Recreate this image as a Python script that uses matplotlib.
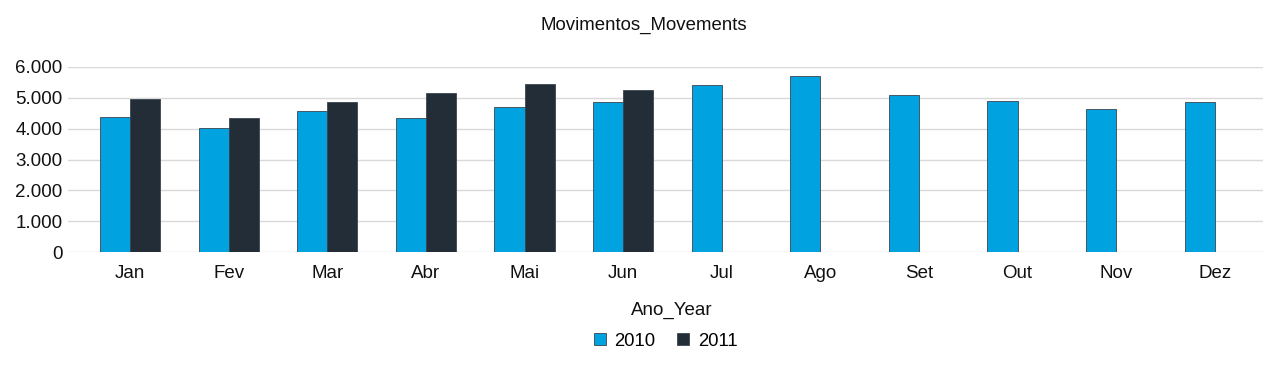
import matplotlib
matplotlib.use("Agg")
import matplotlib.pyplot as plt
from matplotlib.ticker import FuncFormatter
from matplotlib.lines import Line2D
import numpy as np

# %%
months = ["Jan", "Fev", "Mar", "Abr", "Mai", "Jun", "Jul", "Ago", "Set", "Out", "Nov", "Dez"]
mov_2010 = [4360, 4010, 4570, 4340, 4690, 4850, 5410, 5690, 5075, 4900, 4645, 4870]
mov_2011 = [4950, 4330, 4870, 5150, 5440, 5260]
years = ["2010", "2011"]
colors = ["#00a3df", "#232d37"]

# %%
plt.rcParams["font.family"] = ["Liberation Sans", "DejaVu Sans"]
fig = plt.figure(figsize=(12.81, 3.71), dpi=100)
ax = fig.add_axes([0.0531, 0.320, 0.9329, 0.500])

x = np.arange(len(months))
w = 0.305
ax.bar(x[:len(mov_2010)] - w / 2, mov_2010, w, color=colors[0], edgecolor="#3a4550", linewidth=0.6, zorder=3)
ax.bar(x[:len(mov_2011)] + w / 2, mov_2011, w, color=colors[1], edgecolor="#3a4550", linewidth=0.6, zorder=3)

ax.set_xlim(-0.63, 11.49)
ax.set_ylim(0, 6000)
ax.set_yticks(np.arange(0, 6001, 1000))
ax.yaxis.set_major_formatter(FuncFormatter(lambda v, p: f"{int(v):,}".replace(",", ".")))
ax.set_xticks(x)
ax.set_xticklabels(months)
ax.grid(axis="y", color="#d9d9d9", linewidth=1, zorder=0)
for s in ax.spines.values():
    s.set_visible(False)
ax.tick_params(axis="both", length=0, labelsize=13.5, colors="#111111")
ax.tick_params(axis="x", pad=9.5)
ax.tick_params(axis="y", pad=4)

fig.text(0.5025, 1 - 25 / 371, "Movimentos_Movements", ha="center", va="center", fontsize=13.4, color="#111111")
fig.text(672 / 1281, 1 - 310 / 371, "Ano_Year", ha="center", va="center", fontsize=13.5, color="#111111")

handles = [Line2D([], [], marker="s", linestyle="", markersize=9, markerfacecolor=c,
                  markeredgecolor="#3a4550", markeredgewidth=0.6) for c in colors]
fig.legend(handles, years, loc="center", bbox_to_anchor=(664 / 1281, 1 - 341 / 371), ncol=2,
           frameon=False, fontsize=13.3, handletextpad=0.3, columnspacing=1.0, handlelength=1.0)

plt.savefig("out.png", dpi=100)
